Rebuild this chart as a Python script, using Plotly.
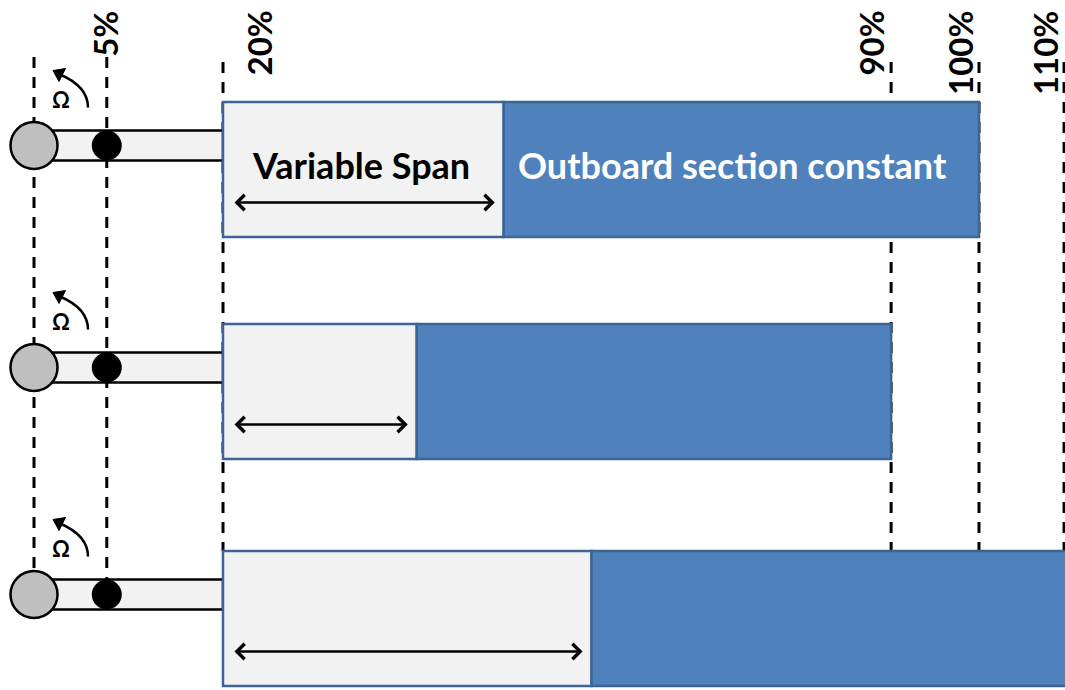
import plotly.graph_objects as go

# ---------------- data ----------------
# Radial stations (label text) and their schematic drawn positions on the diagram axis (% radius)
station_labels = ["5%", "20%", "90%", "100%", "110%"]
station_drawn = [7.7, 20, 90.7, 100, 109.0]

# Three blade configurations (top to bottom)
configs = ["Baseline", "Shorter", "Longer"]
root_start = 20                          # start of blade (20 %)
variable_span_end = [49.7, 40.5, 59.0]   # end of light inboard variable-span section
blade_tip = [100, 90.7, 112]             # tip of outboard constant section
hub_pos = 0                               # hub centre
bearing_pos = 7.7                         # pitch bearing (5 % station)

texts = {"span": "Variable Span", "outboard": "Outboard section constant", "omega": "Ω"}

# ---------------- layout constants (pixel based) ----------------
PX_PER = 9.45          # pixels per % on x
X_LEFT = 20 - 223 / PX_PER
X_RIGHT = 20 + (1065 - 223) / PX_PER
ROW_Y = [169.5, 391.5, 618.5]
BOX_H = 135
HUB_DY = -24
ARROW_DY = 33


def dx(px):
    return px / PX_PER


LIGHT = "#F2F2F2"
BLUE = "#4F81BD"
EDGE = "#3D6494"
FONT = "Lato"

hub_y = [y + HUB_DY for y in ROW_Y]

fig = go.Figure()

# inboard variable span boxes
fig.add_trace(go.Bar(
    y=ROW_Y, x=[e - root_start for e in variable_span_end], base=root_start,
    orientation="h", width=BOX_H,
    marker=dict(color=LIGHT, line=dict(color=EDGE, width=2.5)),
    hoverinfo="skip", name="Variable span"))
# outboard constant boxes
fig.add_trace(go.Bar(
    y=ROW_Y, x=[t - e for t, e in zip(blade_tip, variable_span_end)], base=variable_span_end,
    orientation="h", width=BOX_H,
    marker=dict(color=BLUE, line=dict(color=EDGE, width=2.5)),
    hoverinfo="skip", name="Outboard"))
# hub circles
fig.add_trace(go.Scatter(
    x=[hub_pos] * 3, y=hub_y, mode="markers",
    marker=dict(size=47, color="#BFBFBF", line=dict(color="black", width=2.5)),
    hoverinfo="skip"))
# pitch bearing dots
fig.add_trace(go.Scatter(
    x=[bearing_pos] * 3, y=hub_y, mode="markers",
    marker=dict(size=30, color="black", line=dict(width=0)),
    hoverinfo="skip"))

shapes = []
dash = "11px,9px"
# dashed lines: hub and 5% (top to last hub)
for xv in [hub_pos, station_drawn[0]]:
    shapes.append(dict(type="line", x0=xv, x1=xv, y0=57, y1=hub_y[-1],
                       line=dict(color="black", width=3, dash=dash), layer="below"))
for xv in station_drawn[1:]:
    shapes.append(dict(type="line", x0=xv, x1=xv, y0=62, y1=ROW_Y[-1] - BOX_H / 2,
                       line=dict(color="black", width=3, dash=dash), layer="below"))
# spar bands from hub to 20 %
for hy in hub_y:
    shapes.append(dict(type="rect", x0=hub_pos, x1=root_start, y0=hy - 15, y1=hy + 15,
                       fillcolor=LIGHT, line=dict(color="black", width=2.5), layer="below"))
# rotation arrows
for hy in hub_y:
    h = hub_pos
    p = (f"M {h + dx(54)},{hy - 38} Q {h + dx(54)},{hy - 59} {h + dx(26)},{hy - 71}")
    shapes.append(dict(type="path", path=p, line=dict(color="black", width=2.5)))
    tri = (f"M {h + dx(19)},{hy - 75} L {h + dx(31.5)},{hy - 77} "
           f"L {h + dx(25)},{hy - 64} Z")
    shapes.append(dict(type="path", path=tri, fillcolor="black", line=dict(color="black", width=1)))

annotations = []
# station labels
label_shift = [-2, 35, -21, -19, -19]
for lab, xv, sh in zip(station_labels, station_drawn, label_shift):
    annotations.append(dict(x=xv, y=9, text=lab, textangle=-90, showarrow=False,
                            xanchor="center", yanchor="top", xshift=sh,
                            font=dict(family=FONT, size=33, color="black", weight="bold")))
# omega labels
for hy in hub_y:
    annotations.append(dict(x=hub_pos + dx(27), y=hy - 46, text=texts["omega"], showarrow=False,
                            font=dict(family=FONT, size=22, color="black", weight="bold")))
# double arrows across variable span
for ry, e in zip(ROW_Y, variable_span_end):
    annotations.append(dict(x=e - dx(9), y=ry + ARROW_DY, ax=root_start + dx(10), ay=ry + ARROW_DY,
                            xref="x", yref="y", axref="x", ayref="y", text="",
                            showarrow=True, arrowside="end+start", arrowhead=4, startarrowhead=4,
                            arrowsize=1.2, startarrowsize=1.2, arrowwidth=2.5, arrowcolor="black",
                            standoff=0, startstandoff=0))
# box texts
annotations.append(dict(x=(root_start + variable_span_end[0]) / 2 + dx(-2), y=ROW_Y[0] - 5,
                        text=texts["span"], showarrow=False,
                        font=dict(family=FONT, size=36, color="black", weight="bold")))
annotations.append(dict(x=variable_span_end[0] + dx(12), y=ROW_Y[0] - 5, xanchor="left",
                        text=texts["outboard"], showarrow=False,
                        font=dict(family=FONT, size=36, color="white", weight="bold")))

fig.update_layout(
    width=1065, height=690, margin=dict(l=0, r=0, t=0, b=0),
    paper_bgcolor="white", plot_bgcolor="white", showlegend=False,
    barmode="overlay",
    xaxis=dict(range=[X_LEFT, X_RIGHT], visible=False, fixedrange=True),
    yaxis=dict(range=[690, 0], visible=False, fixedrange=True),
    shapes=shapes, annotations=annotations,
)

fig.write_html("out.html", config={"displayModeBar": False},
               post_script="document.body.style.margin='0';")
